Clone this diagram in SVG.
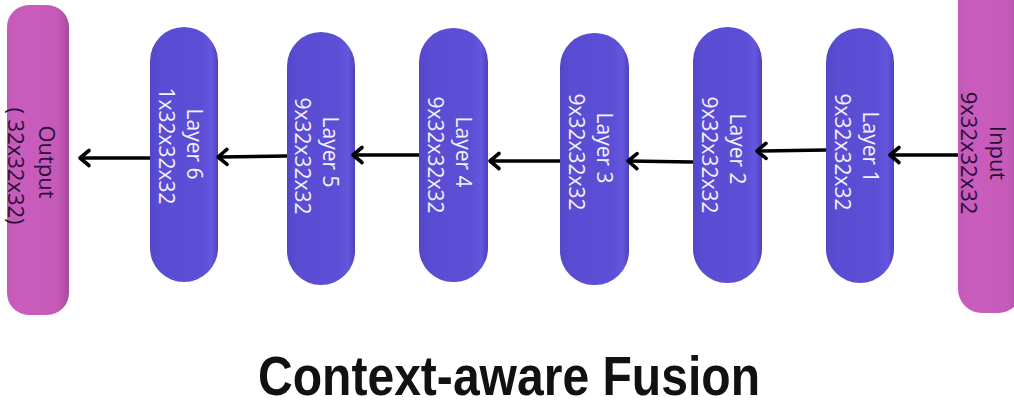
<svg xmlns="http://www.w3.org/2000/svg" width="1014" height="407" viewBox="0 0 1014 407">
  <defs>
    <linearGradient id="pillFill" x1="0" y1="0" x2="1" y2="0">
      <stop offset="0" stop-color="#5446c6"/>
      <stop offset="0.15" stop-color="#5a4dd3"/>
      <stop offset="0.75" stop-color="#5c4fd5"/>
      <stop offset="0.9" stop-color="#6557dd"/>
      <stop offset="1" stop-color="#4e42bd"/>
    </linearGradient>
    <linearGradient id="pinkFill" x1="0" y1="0" x2="1" y2="0">
      <stop offset="0" stop-color="#c45bb8"/>
      <stop offset="0.2" stop-color="#c95cbc"/>
      <stop offset="0.8" stop-color="#c65ab9"/>
      <stop offset="1" stop-color="#a84a9c"/>
    </linearGradient>
    <marker id="head" markerUnits="userSpaceOnUse" markerWidth="24" markerHeight="24" viewBox="-14 -12 24 24" refX="0" refY="0" orient="auto">
      <path d="M-9,-7.5 L0,0 L-9,7.5" fill="none" stroke="#000" stroke-width="3.6" stroke-linecap="round" stroke-linejoin="round"/>
    </marker>
  </defs>
  <style>
    .pill { fill: url(#pillFill); }
    .pink { fill: url(#pinkFill); }
    .lbl { font-family: "Open Sans", "Liberation Sans", sans-serif; font-size: 21px; fill: #f4f2ff; text-anchor: middle; dominant-baseline: central; }
    .dark { fill: #2a0f35; font-size: 22px; }
    .edge { stroke: #000; stroke-width: 3.4; fill: none; marker-end: url(#head); }
    .title { font-family: "Liberation Sans", Arial, sans-serif; font-weight: bold; font-size: 55px; fill: #111; text-anchor: middle; }
  </style>
  <rect width="1014" height="407" fill="#ffffff"/>

  <!-- network stages -->
  <g id="output">
    <rect class="pink" x="7" y="5" width="62" height="310" rx="22"/>
    <text class="lbl dark" transform="translate(48,162) rotate(90)">Output</text>
    <text class="lbl dark" transform="translate(17,166) rotate(90)">( 32x32x32)</text>
  </g>
  <g id="layer6">
    <rect class="pill" x="150" y="27" width="68" height="255" rx="34"/>
    <text class="lbl" transform="translate(195,144) rotate(90)">Layer 6</text>
    <text class="lbl" transform="translate(167,146) rotate(90)">1x32x32x32</text>
  </g>
  <g id="layer5">
    <rect class="pill" x="287" y="32" width="68" height="253" rx="34"/>
    <text class="lbl" transform="translate(331,152) rotate(90)">Layer 5</text>
    <text class="lbl" transform="translate(303,156) rotate(90)">9x32x32x32</text>
  </g>
  <g id="layer4">
    <rect class="pill" x="419" y="28" width="69" height="254" rx="34"/>
    <text class="lbl" transform="translate(464,152) rotate(90)">Layer 4</text>
    <text class="lbl" transform="translate(436,155) rotate(90)">9x32x32x32</text>
  </g>
  <g id="layer3">
    <rect class="pill" x="560" y="33" width="69" height="252" rx="34"/>
    <text class="lbl" transform="translate(605,148) rotate(90)">Layer 3</text>
    <text class="lbl" transform="translate(577,152) rotate(90)">9x32x32x32</text>
  </g>
  <g id="layer2">
    <rect class="pill" x="693" y="27" width="69" height="256" rx="34"/>
    <text class="lbl" transform="translate(738,149) rotate(90)">Layer 2</text>
    <text class="lbl" transform="translate(710,155) rotate(90)">9x32x32x32</text>
  </g>
  <g id="layer1">
    <rect class="pill" x="826" y="28" width="68" height="255" rx="34"/>
    <text class="lbl" transform="translate(871,147) rotate(90)">Layer 1</text>
    <text class="lbl" transform="translate(843,152) rotate(90)">9x32x32x32</text>
  </g>
  <g id="input">
    <rect class="pink" x="958" y="-25" width="64" height="338" rx="24"/>
    <text class="lbl dark" transform="translate(999,153) rotate(90)">Input</text>
    <text class="lbl dark" transform="translate(970,153) rotate(90)">9x32x32x32</text>
  </g>

  <!-- data flow, right to left -->
  <g id="connectors">
    <line class="edge" x1="958" y1="155" x2="890" y2="155"/>
    <line class="edge" x1="826" y1="150" x2="757" y2="151"/>
    <line class="edge" x1="693" y1="162" x2="628" y2="161"/>
    <line class="edge" x1="560" y1="161" x2="490" y2="161"/>
    <line class="edge" x1="419" y1="155" x2="353" y2="155"/>
    <line class="edge" x1="287" y1="156" x2="218" y2="157"/>
    <line class="edge" x1="150" y1="158" x2="80" y2="158"/>
  </g>

  <text class="title" x="509" y="395" textLength="502" lengthAdjust="spacingAndGlyphs">Context-aware Fusion</text>
</svg>
